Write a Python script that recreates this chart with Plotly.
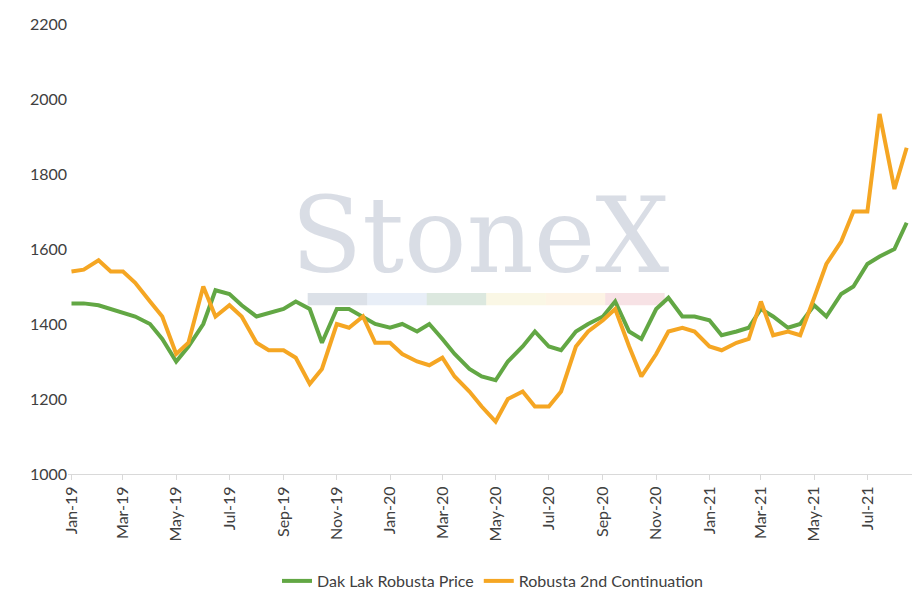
import plotly.graph_objects as go
import pandas as pd

dates = pd.date_range("2019-01-01", periods=64, freq="SMS").strftime("%Y-%m-%d").tolist()
dak_lak = [1455,1455,1450,1440,1430,1420,1400,1360,1300,1340,1400,1490,1480,1450,1420,1430,
           1440,1460,1440,1350,1440,1440,1420,1400,1390,1400,1380,1400,1360,1320,1280,1260,
           1250,1300,1340,1380,1340,1330,1380,1400,1420,1460,1380,1360,1440,1470,1420,1420,
           1410,1370,1380,1390,1440,1420,1390,1400,1450,1420,1480,1500,1560,1580,1600,1670]
robusta = [1540,1545,1570,1540,1540,1510,1460,1420,1320,1350,1500,1420,1450,1420,1350,1330,
           1330,1310,1240,1280,1400,1390,1420,1350,1350,1320,1300,1290,1310,1260,1220,1180,
           1140,1200,1220,1180,1180,1220,1340,1380,1410,1440,1340,1260,1320,1380,1390,1380,
           1340,1330,1350,1360,1460,1370,1380,1370,1470,1560,1620,1700,1700,1960,1760,1870]
tick_vals = pd.date_range("2019-01-01", "2021-07-01", freq="2MS")
tick_text = [d.strftime("%b-%y") for d in tick_vals]

fig = go.Figure()
fig.add_trace(go.Scatter(x=dates, y=dak_lak, name="Dak Lak Robusta Price", mode="lines",
                         line=dict(color="#62a744", width=4)))
fig.add_trace(go.Scatter(x=dates, y=robusta, name="Robusta 2nd Continuation", mode="lines",
                         line=dict(color="#f5a623", width=4)))

fig.add_annotation(text="StoneX", xref="paper", yref="paper", x=0.485, y=0.53, showarrow=False,
                   yanchor="middle",
                   font=dict(family="DejaVu Serif", size=104, color="rgba(160,170,190,0.4)"))
cols = ["rgba(140,155,180,0.3)", "rgba(180,200,230,0.3)", "rgba(140,180,150,0.3)",
        "rgba(240,230,170,0.3)", "rgba(250,220,170,0.3)", "rgba(230,160,170,0.3)"]
for i, c in enumerate(cols):
    fig.add_shape(type="rect", xref="paper", yref="paper", x0=0.282+i*0.07, x1=0.282+(i+1)*0.07,
                  y0=0.375, y1=0.402, fillcolor=c, line_width=0, layer="below")

fig.update_layout(
    width=920, height=600, margin=dict(l=60, r=10, t=16, b=131),
    plot_bgcolor="white", paper_bgcolor="white",
    font=dict(family="Lato", size=16, color="#404040"),
    legend=dict(orientation="h", x=0.5, xanchor="center", y=-0.2, yanchor="top", font=dict(size=16)),
    xaxis=dict(range=["2018-12-28", "2021-08-28"], tickvals=tick_vals, ticktext=tick_text,
               tickangle=-90, showgrid=False, showline=True, linecolor="#d9d9d9", ticks="outside",
               tickcolor="#d9d9d9"),
    yaxis=dict(range=[1000, 2200], dtick=200, showgrid=False, zeroline=False, automargin=False),
)
fig.write_html("out.html")
